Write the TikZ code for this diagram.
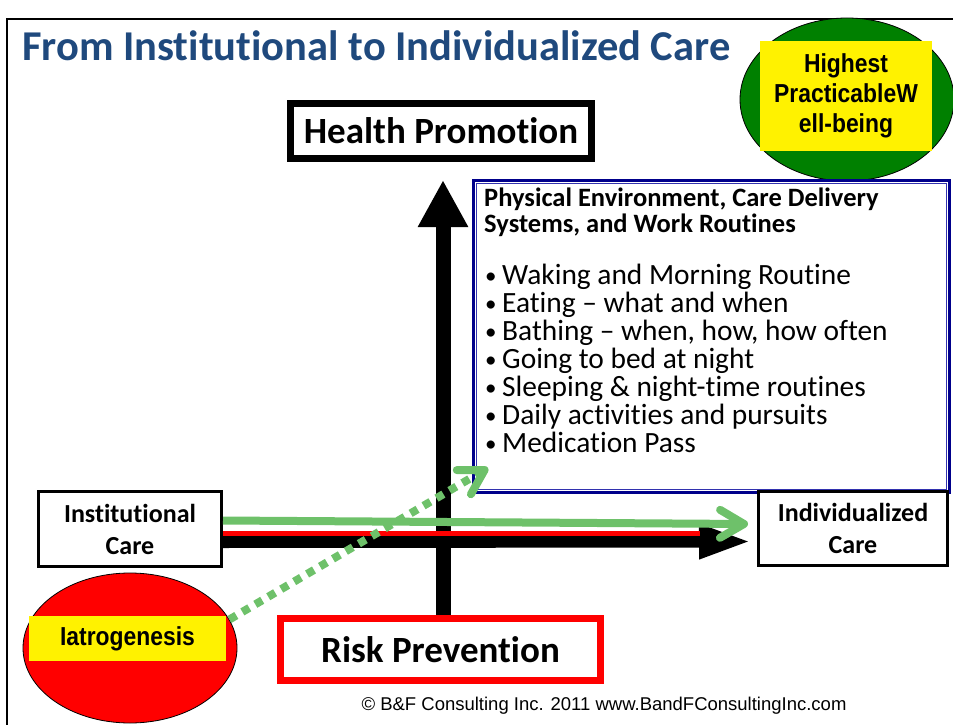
\documentclass[tikz,border=0pt]{standalone}
\usepackage{fontspec}
\setmainfont{Carlito}[Ligatures=NoCommon]
\newfontfamily\arialfont{Liberation Sans}
\newfontfamily\tallarial{Liberation Sans}[FakeStretch=0.88]
\usetikzlibrary{arrows.meta,shapes.geometric}

\definecolor{titleblue}{RGB}{31,73,125}
\definecolor{leafgreen}{RGB}{0,128,0}
\definecolor{palegreen}{RGB}{110,193,106}
\definecolor{navyline}{RGB}{0,0,139}
\definecolor{navythin}{RGB}{50,50,175}

\newcommand\itm{\makebox[18pt][l]{\hspace{1pt}\raisebox{1.5pt}{\fontsize{23}{23}\selectfont\textbullet}}}

\begin{document}
\begin{tikzpicture}[x=1pt,y=-1pt,
  box/.style={draw,line width=3pt,fill=white,align=center,inner sep=0pt,
    font=\bfseries\fontsize{26}{32}\selectfont},
  bigbox/.style={draw,line width=7pt,fill=white,inner sep=0pt,
    font=\bfseries\fontsize{37}{44}\selectfont},
  blob/.style={ellipse,draw,line width=0.8pt,inner sep=0pt},
  tag/.style={fill=yellow,inner sep=0pt,align=center,
    font=\tallarial\bfseries\fontsize{26}{30}\selectfont},
  axis/.style={line width=15pt,-{Triangle[length=47pt,width=47pt]}},
  move/.style={line width=8pt,palegreen,-{Straight Barb[length=24pt,width=28pt,round]}}]

  \useasboundingbox (0,0) rectangle (953,725);
  \draw[line width=2pt] (7,19) rectangle (970,740);

  \node[anchor=base west,inner sep=0pt,text=titleblue,
    font=\bfseries\fontsize{42.5}{48}\selectfont] (title) at (22,60)
    {From Institutional to Individualized Care};

  % goal in the corner
  \node[blob,fill=leafgreen,minimum width=214pt,minimum height=163pt] (goal) at (847,99.5) {};
  \node[tag,minimum width=172pt,minimum height=110pt] (goaltag) at (846,96)
    {Highest\\PracticableW\\ell-being};

  % routines frame with its text
  \node[draw=navyline,line width=3pt,fill=white,anchor=north west,
    minimum width=476pt,minimum height=312pt] (routines) at (472,179) {};
  \draw[navythin,line width=1.2pt] ([shift={(4.5pt,-4.5pt)}]routines.north west)
    rectangle ([shift={(-4.5pt,4.5pt)}]routines.south east);
  \node[anchor=north west,align=left,inner sep=0pt,
    font=\bfseries\fontsize{26.5}{26}\selectfont] (head) at (484,188)
    {Physical Environment, Care Delivery\\Systems, and Work Routines};
  \node[anchor=north west,align=left,inner sep=0pt,
    font=\fontsize{29.4}{28}\selectfont] (items) at (484,264)
    {\itm Waking and Morning Routine\\
     \itm Eating -- what and when\\
     \itm Bathing -- when, how, how often\\
     \itm Going to bed at night\\
     \itm Sleeping \& night-time routines\\
     \itm Daily activities and pursuits\\
     \itm Medication Pass};

  \node[bigbox,minimum width=301pt,minimum height=55pt] (health) at (441,131) {Health Promotion};
  \node[bigbox,draw=red,minimum width=320pt,minimum height=62pt] (risk) at (440.5,649.5) {Risk Prevention};
  \node[box,minimum width=183pt,minimum height=75pt] (inst) at (130,529) {Institutional\\Care};
  \node[box,minimum width=189pt,minimum height=74pt] (indiv) at (853,528.5) {Individualized\\Care};

  \node[blob,fill=red,minimum width=214pt,minimum height=150pt] (iatro) at (130,648) {};
  \node[tag,minimum width=197pt,minimum height=45pt] (iatrotag) at (127.5,638.5) {Iatrogenesis};

  \node[font=\arialfont\fontsize{18.5}{22}\selectfont] (credit) at (604,706)
    {\textcopyright{} B\&F Consulting Inc. 2011 www.BandFConsultingInc.com};

  \coordinate (uptip) at (443,180);
  \coordinate (dottip) at (488,468);

  % the two axes
  \draw[axis] (risk.north -| uptip) -- (uptip);
  \draw[line width=12pt,-{Triangle[length=52pt,width=32pt]},shorten >=6pt]
    ([yshift=-13pt]inst.east) -- ([yshift=-13pt]indiv.west);
  \draw[red,line width=5pt] ([yshift=-4.5pt]inst.east) -- ([shift={(-57pt,-5pt)}]indiv.west);

  % the shift in care
  \draw[move] ([yshift=8.5pt]inst.east) -- ([shift={(-9pt,4.5pt)}]indiv.west);
  \draw[move,dash pattern=on 8pt off 7pt] (iatro.16) -- (dottip);
\end{tikzpicture}
\end{document}
